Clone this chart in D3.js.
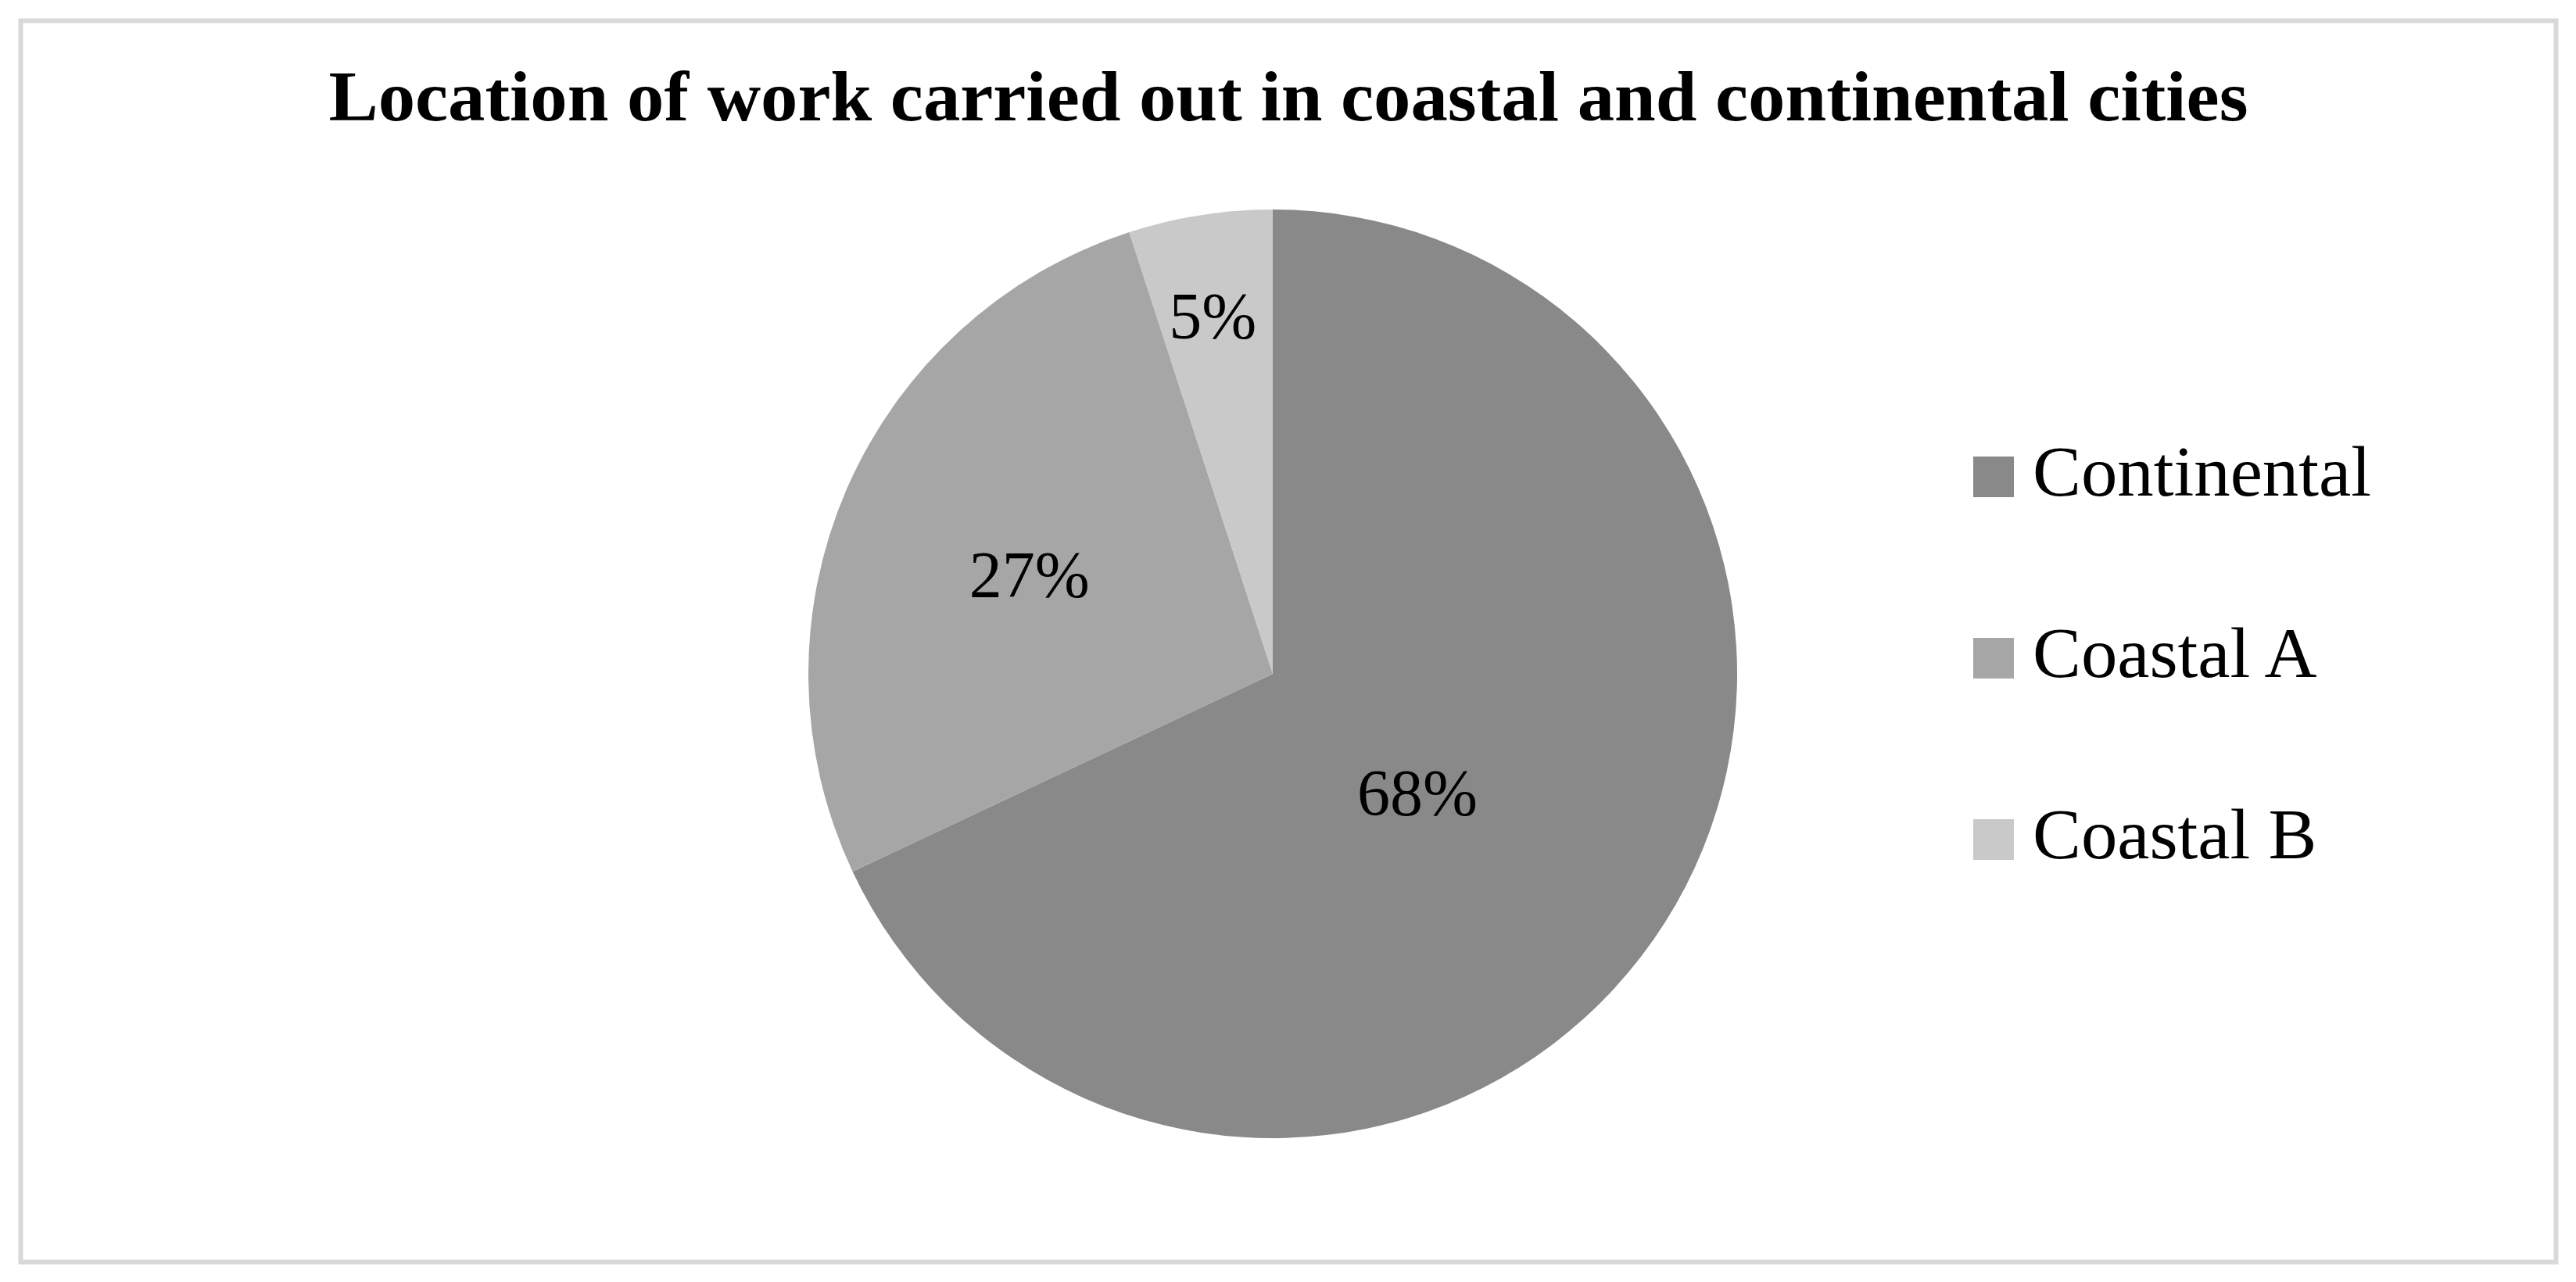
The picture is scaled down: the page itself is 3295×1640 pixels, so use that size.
<!DOCTYPE html>
<html>
<head>
<meta charset="utf-8">
<script src="https://cdn.jsdelivr.net/npm/d3@7"></script>
<style>
  html, body { margin: 0; padding: 0; background: #ffffff; }
  svg { display: block; }
</style>
</head>
<body>
<div id="chart"></div>
<script>
// ---- data ----
const title = "Location of work carried out in coastal and continental cities";
const categories = ["Continental", "Coastal A", "Coastal B"];
const values = [68, 27, 5];
const colors = ["#898989", "#a6a6a6", "#c9c9c9"];

// ---- layout (styling constants) ----
const W = 3295, H = 1640;
const cx = 1628, cy = 862, R = 594;
// label placement: [angle in degrees clockwise from 12 o'clock, fraction of radius]
const labelPolar = [[129.4, 0.403], [292.2, 0.566], [350.5, 0.782]];

const svg = d3.select("#chart").append("svg")
  .attr("width", W).attr("height", H);

// frame
svg.append("rect")
  .attr("x", 26.5).attr("y", 26.5)
  .attr("width", 3243).attr("height", 1588)
  .attr("fill", "#ffffff")
  .attr("stroke", "#d9d9d9").attr("stroke-width", 6);

// title
const t = svg.append("text")
  .attr("x", 1648).attr("y", 154)
  .attr("text-anchor", "middle")
  .attr("font-family", "'Liberation Serif', serif")
  .attr("font-weight", "bold")
  .attr("font-size", 92)
  .attr("fill", "#000")
  .text(title);
t.attr("textLength", 2455).attr("lengthAdjust", "spacingAndGlyphs");

// pie
const pie = d3.pie().sort(null).value(d => d)(values);
const arc = d3.arc().innerRadius(0).outerRadius(R);
const g = svg.append("g").attr("transform", `translate(${cx},${cy})`);
g.selectAll("path").data(pie).join("path")
  .attr("d", arc)
  .attr("fill", (d, i) => colors[i]);

// data labels
const total = d3.sum(values);
const fmt = d3.format(".0%");
g.selectAll("text.lbl").data(pie).join("text")
  .attr("class", "lbl")
  .attr("x", (d, i) => Math.sin(labelPolar[i][0] * Math.PI / 180) * labelPolar[i][1] * R)
  .attr("y", (d, i) => -Math.cos(labelPolar[i][0] * Math.PI / 180) * labelPolar[i][1] * R + 29)
  .attr("text-anchor", "middle")
  .attr("font-family", "'Liberation Serif', serif")
  .attr("font-size", 84)
  .attr("fill", "#000")
  .text(d => fmt(d.value / total));

// legend
const legendX = 2524, legendY0 = 584, legendStep = 232, sw = 52;
const lg = svg.append("g");
const items = lg.selectAll("g").data(categories).join("g")
  .attr("transform", (d, i) => `translate(${legendX},${legendY0 + i * legendStep})`);
items.append("rect")
  .attr("width", sw).attr("height", sw)
  .attr("fill", (d, i) => colors[i]);
const lt = items.append("text")
  .attr("x", 76).attr("y", 50)
  .attr("font-family", "'Liberation Serif', serif")
  .attr("font-size", 90)
  .attr("fill", "#000")
  .text(d => d);
// stretch to match reference glyph widths (Palatino is wider than Times)
const ref = lt.nodes()[0].getComputedTextLength();
const ratio = 433 / ref;
lt.each(function() {
  const w = this.getComputedTextLength();
  d3.select(this).attr("textLength", w * ratio).attr("lengthAdjust", "spacingAndGlyphs");
});
</script>
</body>
</html>
